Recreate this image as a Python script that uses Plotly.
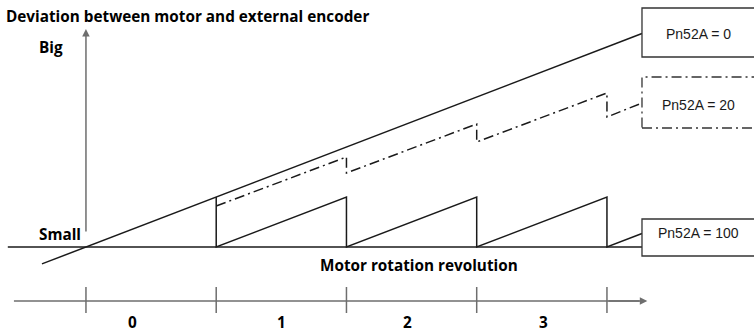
import plotly.graph_objects as go

# Revolution axis (motor revolutions) and labels between tick marks
rev_ticks = [0, 1, 2, 3, 4]
rev_labels = ["0", "1", "2", "3"]
rev_label_pos = [0.36, 1.50, 2.47, 3.51]

# Deviation curves (deviation units: 1 unit = deviation after 1 revolution)
pn0_x = [-0.338, 4.269]
pn0_y = [-0.338, 4.269]

pn20_x = [1, 2, 2, 3, 3, 4, 4, 4.269]
pn20_y = [0.82, 1.80, 1.48, 2.46, 2.10, 3.08, 2.60, 2.88]

pn100_x = [1, 1, 2, 2, 3, 3, 4, 4, 4.269]
pn100_y = [1, 0, 1, 0, 1, 0, 1, 0, 0.27]

series_names = ["Pn52A = 0", "Pn52A = 20", "Pn52A = 100"]

LINE = "#1a1a1a"
AXIS = "#6e6e6e"
DASHDOT = "10px,4px,2px,4px"

fig = go.Figure()

# baseline (zero deviation)
fig.add_trace(go.Scatter(x=[-0.6, 4.269], y=[0, 0], mode="lines",
                         line=dict(color=LINE, width=1.5), hoverinfo="skip"))
fig.add_trace(go.Scatter(x=pn0_x, y=pn0_y, mode="lines", name=series_names[0],
                         line=dict(color=LINE, width=1.5)))
fig.add_trace(go.Scatter(x=pn20_x, y=pn20_y, mode="lines", name=series_names[1],
                         line=dict(color=LINE, width=1.5, dash=DASHDOT)))
fig.add_trace(go.Scatter(x=pn100_x, y=pn100_y, mode="lines", name=series_names[2],
                         line=dict(color=LINE, width=1.5)))

shapes = []
# revolution axis line and ticks
shapes.append(dict(type="line", x0=-0.553, x1=4.25, y0=-1.08, y1=-1.08,
                   line=dict(color=AXIS, width=1.5)))
for t in rev_ticks:
    shapes.append(dict(type="line", x0=t, x1=t, y0=-0.80, y1=-1.32,
                       line=dict(color=AXIS, width=1.5)))

# legend boxes at the right edge
shapes.append(dict(type="rect", x0=4.269, x1=5.3, y0=3.80, y1=4.78,
                   line=dict(color="#333333", width=1.3), fillcolor="white"))
shapes.append(dict(type="rect", x0=4.269, x1=5.3, y0=2.38, y1=3.40,
                   line=dict(color="#333333", width=1.3, dash=DASHDOT),
                   fillcolor="white"))
shapes.append(dict(type="rect", x0=4.269, x1=5.3, y0=-0.18, y1=0.56,
                   line=dict(color="#333333", width=1.3), fillcolor="white"))

annotations = []
# axis arrows
annotations.append(dict(x=0, y=4.36, ax=0, ay=0.28, xref="x", yref="y",
                        axref="x", ayref="y", text="", showarrow=True,
                        arrowhead=2, arrowsize=1, arrowwidth=1.5, arrowcolor=AXIS))
annotations.append(dict(x=4.31, y=-1.08, ax=4.0, ay=-1.08, xref="x", yref="y",
                        axref="x", ayref="y", text="", showarrow=True,
                        arrowhead=2, arrowsize=1, arrowwidth=1.5, arrowcolor=AXIS))

bold = dict(family="Open Sans", size=15.3, color="black")
annotations.append(dict(x=-0.63, y=4.63, xref="x", yref="y", xanchor="left",
                        yanchor="middle", showarrow=False,
                        text="<b>Deviation between motor and external encoder</b>",
                        font=bold))
annotations.append(dict(x=-0.373, y=4.0, xref="x", yref="y", xanchor="left",
                        yanchor="middle", showarrow=False, text="<b>Big</b>", font=bold))
annotations.append(dict(x=-0.373, y=0.26, xref="x", yref="y", xanchor="left",
                        yanchor="middle", showarrow=False, text="<b>Small</b>", font=bold))
annotations.append(dict(x=2.555, y=-0.36, xref="x", yref="y", xanchor="center",
                        yanchor="middle", showarrow=False,
                        text="<b>Motor rotation revolution</b>", font=bold))
for lab, pos in zip(rev_labels, rev_label_pos):
    annotations.append(dict(x=pos, y=-1.50, xref="x", yref="y", xanchor="center",
                            yanchor="middle", showarrow=False, text=f"<b>{lab}</b>",
                            font=bold))

box_font = dict(family="Liberation Sans", size=14, color="#1a1a1a")
for name, yc in zip(series_names, [4.26, 2.84, 0.28]):
    annotations.append(dict(x=4.70, y=yc, xref="x", yref="y", xanchor="center",
                            yanchor="middle", showarrow=False, text=name, font=box_font))

fig.update_layout(
    width=754, height=335,
    margin=dict(l=0, r=0, t=0, b=0),
    paper_bgcolor="white", plot_bgcolor="white",
    showlegend=False,
    xaxis=dict(range=[-0.660, 5.129], visible=False, fixedrange=True),
    yaxis=dict(range=[-1.76, 4.94], visible=False, fixedrange=True),
    shapes=shapes,
    annotations=annotations,
)

fig.write_html("out.html")
